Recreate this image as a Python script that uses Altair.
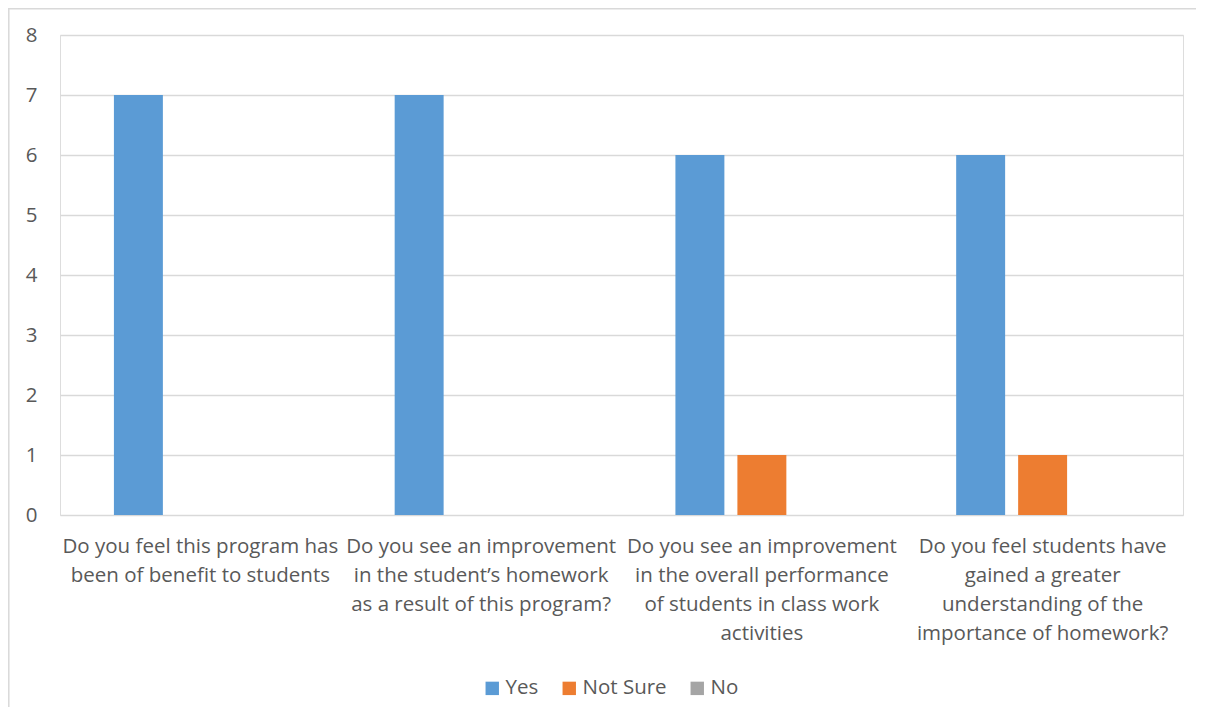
import altair as alt
import pandas as pd

categories = [
    "Do you feel this program has|been of benefit to students",
    "Do you see an improvement|in the student\u2019s homework|as a result of this program?",
    "Do you see an improvement|in the overall performance|of students in class work|activities",
    "Do you feel students have|gained a greater|understanding of the|importance of homework?",
]
series = ["Yes", "Not Sure", "No"]
yes_vals = [7, 7, 6, 6]
not_sure_vals = [0, 0, 1, 1]
no_vals = [0, 0, 0, 0]
colors = ["#5B9BD5", "#ED7D31", "#A5A5A5"]

rows = []
for i, c in enumerate(categories):
    for s, vals in zip(series, [yes_vals, not_sure_vals, no_vals]):
        rows.append({"question": c, "response": s, "count": vals[i]})
df = pd.DataFrame(rows)

FONT = "Open Sans"
FS = 20.5
TXT = "#595959"
GRID = "#D9D9D9"

bars = alt.Chart(df).mark_bar().encode(
    x=alt.X("question:N", sort=categories,
            scale=alt.Scale(paddingInner=0, paddingOuter=0),
            axis=alt.Axis(title=None, labelAngle=0, domain=False, ticks=False, tickSize=0,
                          labelPadding=21, labelFont=FONT, labelFontSize=FS,
                          labelColor=TXT, labelLimit=0, labelOverlap=False,
                          labelLineHeight=29, labelAlign="center",
                          labelExpr="split(datum.label, '|')")),
    xOffset=alt.XOffset("response:N", sort=series,
                        scale=alt.Scale(paddingInner=0.21, paddingOuter=0.87)),
    y=alt.Y("count:Q", scale=alt.Scale(domain=[0, 8], nice=False),
            axis=alt.Axis(title=None, values=list(range(0, 9)), domain=False, ticks=False,
                          tickSize=0, labelPadding=23, labelFont=FONT, labelFontSize=FS,
                          labelColor=TXT, grid=True, gridColor=GRID, gridWidth=1.5)),
    color=alt.Color("response:N", sort=series,
                    scale=alt.Scale(domain=series, range=colors),
                    legend=alt.Legend(title=None, orient="none", legendX=422, legendY=643,
                                      direction="horizontal", symbolType="square",
                                      symbolSize=180, symbolStrokeWidth=0,
                                      labelFont=FONT, labelFontSize=FS, labelColor=TXT,
                                      labelOffset=3, columnPadding=20, padding=0)),
)

frame = pd.DataFrame({"k": [0]})
left_border = alt.Chart(frame).mark_rule(color=GRID, strokeWidth=1.5).encode(
    x=alt.value(-51.2), y=alt.value(-26.5), y2=alt.value(700))
top_border = alt.Chart(frame).mark_rule(color=GRID, strokeWidth=1.5).encode(
    x=alt.value(-52), x2=alt.value(1136), y=alt.value(-26.2))

chart = alt.layer(left_border, top_border, bars).properties(
    width=1123, height=480,
    padding={"left": 52, "top": 27, "right": 16, "bottom": 192},
    autosize=alt.AutoSizeParams(type="none"),
).configure_view(strokeWidth=0).configure(background="white")

chart.save("out.html", embed_options={"renderer": "svg", "actions": False})
